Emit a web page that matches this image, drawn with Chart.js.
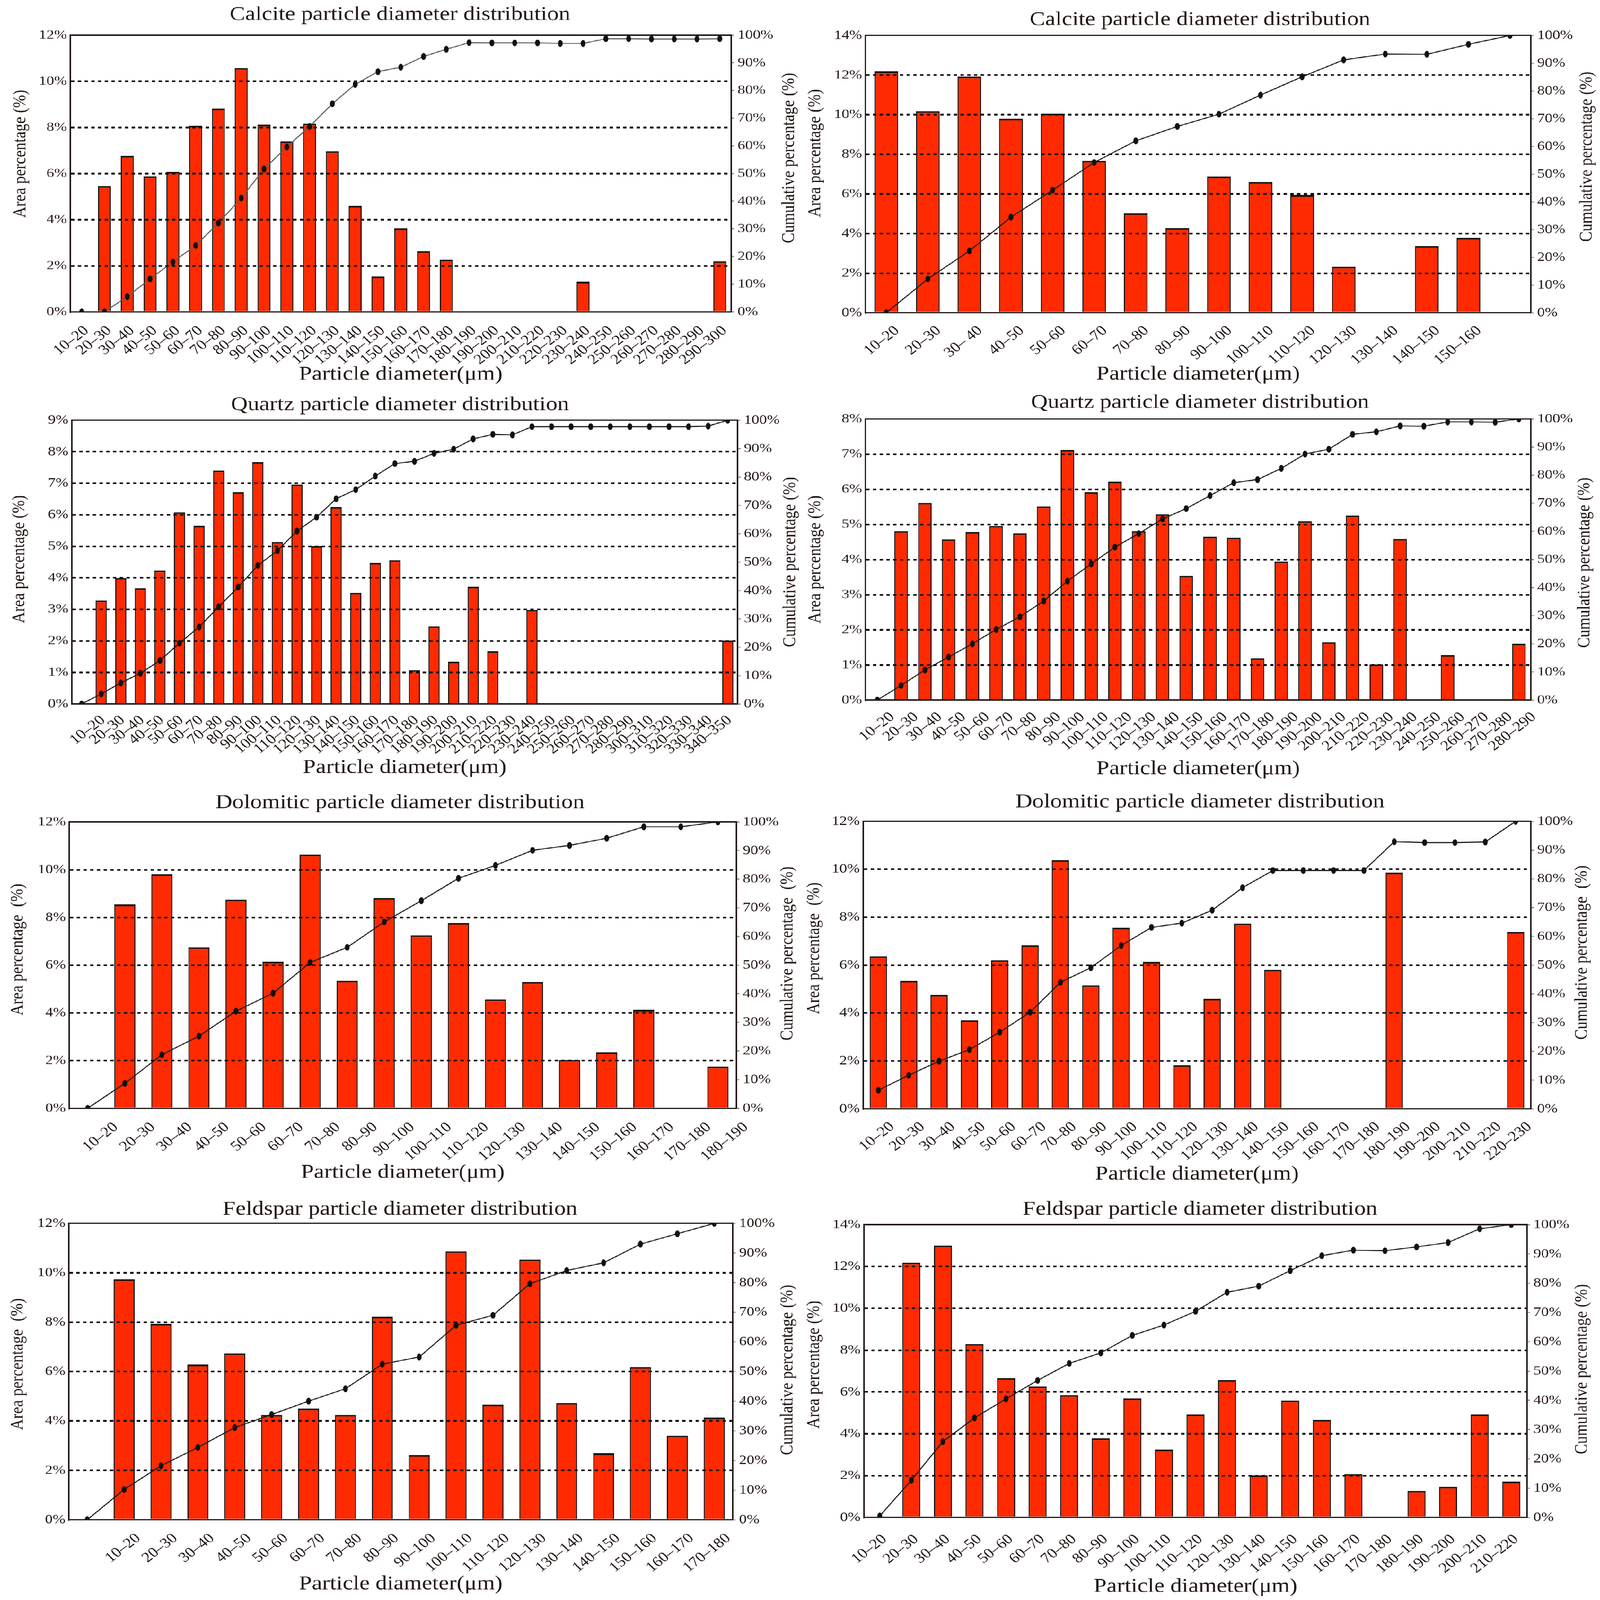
<!DOCTYPE html>
<html>
<head>
<meta charset="UTF-8">
<title>Particle diameter distribution</title>
<script src="https://cdn.jsdelivr.net/npm/chart.js"></script>
<style>
  html, body { margin: 0; padding: 0; background: #fff; overflow: hidden; }
  #page { position: absolute; left: 0; top: 0; width: 4278px; height: 4962px; transform-origin: 0 0; }
  #page canvas { position: absolute; }
</style>
</head>
<body>
<div id="page"></div>
<script>
// ---- values: area % (left axis) and cumulative % (right axis) ----

// Calcite, left panel
const calciteALabels = ['10–20','20–30','30–40','40–50','50–60','60–70','70–80','80–90','90–100','100–110',
  '110–120','120–130','130–140','140–150','150–160','160–170','170–180','180–190','190–200','200–210',
  '210–220','220–230','230–240','240–250','250–260','260–270','270–280','280–290','290–300'];
const calciteAArea = [0, 5.45, 6.77, 5.88, 6.07, 8.07, 8.81, 10.57, 8.12, 7.40, 8.16, 6.96, 4.59, 1.53, 3.62,
  2.63, 2.27, 0, 0, 0, 0, 0, 1.30, 0, 0, 0, 0, 0, 2.20];
const calciteACum = [0, 0, 5.5, 11.9, 18.0, 24.0, 32.1, 41.1, 51.6, 59.6, 67.0, 75.2, 82.2, 86.8, 88.4, 92.3,
  94.9, 97.3, 97.2, 97.2, 97.2, 97.0, 97.0, 98.7, 98.7, 98.6, 98.6, 98.6, 98.7];

// Calcite, right panel
const calciteBLabels = ['10–20','20–30','30– 40','40–50','50–60','60–70','70–80','80–90','90–100','100–110',
  '110–120','120–130','130–140','140–150','150–160',''];
const calciteBArea = [12.19, 10.18, 11.93, 9.80, 10.05, 7.67, 5.03, 4.28, 6.87, 6.61, 5.94, 2.33, 0, 3.37, 3.78, 0];
const calciteBCum = [0, 12.2, 22.3, 34.5, 44.2, 54.2, 62.0, 67.2, 71.6, 78.5, 85.1, 91.2, 93.3, 93.2, 96.8, 100];

// Quartz, left panel
const quartzALabels = ['','10–20','20–30','30–40','40–50','50–60','60–70','70–80','80–90','90–100','100–110',
  '110–120','120–130','130–140','140–150','150–160','160–170','170–180','180–190','190–200','200–210',
  '210–220','220–230','230–240','240–250','250–260','260–270','270–280','280–290','300–310','310–320',
  '320–330','330–340','340–350'];
const quartzAArea = [0, 3.28, 3.99, 3.67, 4.23, 6.08, 5.65, 7.40, 6.72, 7.67, 5.14, 6.96, 5.01, 6.24, 3.52,
  4.47, 4.56, 1.07, 2.46, 1.34, 3.72, 1.67, 0, 2.98, 0, 0, 0, 0, 0, 0, 0, 0, 0, 2.01];
const quartzACum = [0, 3.5, 7.4, 10.8, 15.3, 21.4, 27.1, 34.2, 41.2, 48.8, 54.0, 60.9, 65.8, 72.3, 75.5, 80.3,
  84.7, 85.5, 88.3, 89.8, 93.4, 95.0, 94.8, 97.7, 97.7, 97.7, 97.7, 97.7, 97.7, 97.7, 97.7, 97.7, 97.9, 100];

// Quartz, right panel
const quartzBLabels = ['10–20','20–30','30–40','40–50','50–60','60–70','70–80','80–90','90–100','100–110',
  '110–120','120–130','130–140','140–150','150–160','160–170','170–180','180–190','190–200','200–210',
  '210–220','220–230','230–240','240–250','250–260','260–270','270–280','280–290'];
const quartzBArea = [0, 4.81, 5.61, 4.57, 4.78, 4.95, 4.74, 5.51, 7.11, 5.91, 6.21, 4.81, 5.29, 3.53, 4.65,
  4.62, 1.19, 3.94, 5.09, 1.64, 5.25, 1.01, 4.58, 0, 1.28, 0, 0, 1.60];
const quartzBCum = [0, 5.2, 10.7, 15.3, 20.0, 25.1, 29.6, 35.2, 42.3, 48.4, 54.4, 59.2, 64.4, 68.1, 72.7, 77.3,
  78.4, 82.4, 87.5, 89.2, 94.5, 95.4, 97.5, 97.4, 98.9, 98.9, 98.8, 100];

// Dolomitic, left panel
const dolomiteALabels = ['10–20','20–30','30–40','40–50','50–60','60–70','70–80','80–90','90–100','100–110',
  '110–120','120–130','130–140','140–150','150–160','160–170','170–180','180–190'];
const dolomiteAArea = [0, 8.54, 9.81, 6.74, 8.74, 6.14, 10.64, 5.34, 8.81, 7.25, 7.77, 4.56, 5.29, 2.02, 2.35, 4.12, 0, 1.75];
const dolomiteACum = [0, 8.7, 18.7, 25.2, 33.9, 40.2, 50.9, 56.2, 65.1, 72.5, 80.3, 84.8, 90.1, 91.8, 94.3, 98.3, 98.3, 100];

// Dolomitic, right panel
const dolomiteBLabels = ['10–20','20–30','30–40','40–50','50–60','60–70','70–80','80–90','90–100','100–110',
  '110–120','120–130','130–140','140–150','150–160','160–170','170–180','180–190','190–200','200–210',
  '210–220','220–230'];
const dolomiteBArea = [6.36, 5.34, 4.76, 3.70, 6.20, 6.82, 10.38, 5.16, 7.56, 6.13, 1.82, 4.59, 7.73, 5.80,
  0, 0, 0, 9.86, 0, 0, 0, 7.38];
const dolomiteBCum = [6.5, 11.7, 16.6, 20.6, 26.7, 33.6, 44.0, 49.1, 56.8, 63.1, 64.6, 69.1, 76.9, 82.9, 82.9,
  82.9, 82.9, 92.9, 92.6, 92.6, 92.8, 100];

// Feldspar, left panel
const feldsparALabels = ['','10–20','20–30','30–40','40–50','50–60','60–70','70–80','80–90','90–100','100–110',
  '110–120','120–130','130–140','140–150','150–160','160–170','170–180'];
const feldsparAArea = [0, 9.74, 7.93, 6.28, 6.74, 4.24, 4.50, 4.24, 8.22, 2.61, 10.87, 4.66, 10.53, 4.73, 2.69, 6.18, 3.40, 4.14];
const feldsparACum = [0, 10.2, 18.2, 24.4, 31.1, 35.5, 40.0, 44.2, 52.5, 54.9, 65.6, 69.0, 79.6, 84.1, 86.7, 93.0, 96.5, 100];

// Feldspar, right panel
const feldsparBLabels = ['10–20','20–30','30–40','40–50','50–60','60–70','70–80','80–90','90–100','100–110',
  '110–120','120–130','130–140','140–150','150–160','160–170','170–180','180–190','190–200','200–210','210–220'];
const feldsparBArea = [0, 12.19, 13.0, 8.30, 6.66, 6.27, 5.85, 3.79, 5.69, 3.25, 4.92, 6.57, 2.01, 5.59, 4.67,
  2.07, 0, 1.27, 1.46, 4.92, 1.71];
const feldsparBCum = [0.5, 12.7, 25.9, 34.0, 40.5, 46.8, 52.6, 56.2, 62.2, 65.7, 70.4, 76.9, 79.0, 84.3, 89.4,
  91.3, 91.1, 92.4, 93.9, 98.6, 100];

// ---- layout of the eight panels (figure pixels, 4278x4962) ----
const INK = '#231815';
const SERIF = '"Liberation Serif", "Times New Roman", serif';

const panels = [
  { title: 'Calcite particle diameter distribution', labels: calciteALabels, area: calciteAArea, cum: calciteACum,
    yMax: 12, yStep: 2, line: '#5e5e5e', box: [0, 0, 2139, 1200], plot: [188, 109, 1955, 967],
    titleY: 46, xTitleY: 1162, leftX: 55, leftDy: -61, rightX: 2110, rightDy: -48, labelOffset: 13, tickPad: 33,
    leftText: 'Area percentage (%)', rightText: 'Cumulative percentage (%)' },
  { title: 'Calcite particle diameter distribution', labels: calciteBLabels, area: calciteBArea, cum: calciteBCum,
    yMax: 14, yStep: 2, line: '#1a1a1a', box: [2139, 0, 2139, 1200], plot: [2314, 110, 4093, 970],
    titleY: 62, xTitleY: 1161, leftX: 2180, leftDy: -65, rightX: 4243, rightDy: -54, labelOffset: 29, tickPad: 30,
    leftText: 'Area percentage (%)', rightText: 'Cumulative percentage (%)' },
  { title: 'Quartz particle diameter distribution', labels: quartzALabels, area: quartzAArea, cum: quartzACum,
    yMax: 9, yStep: 1, line: '#1a1a1a', box: [0, 1200, 2139, 1240], plot: [192, 1303, 1972, 2183],
    titleY: 1256, xTitleY: 2381, leftX: 52, leftDy: -9, rightX: 2113, rightDy: 0, labelOffset: 5, tickPad: 25,
    leftText: 'Area percentage (%)', rightText: 'Cumulative percentage (%)' },
  { title: 'Quartz particle diameter distribution', labels: quartzBLabels, area: quartzBArea, cum: quartzBCum,
    yMax: 8, yStep: 1, line: '#1a1a1a', box: [2139, 1200, 2139, 1240], plot: [2314, 1299, 4093, 2171],
    titleY: 1249, xTitleY: 2385, leftX: 2180, leftDy: 0, rightX: 4237, rightDy: 10, labelOffset: 40, tickPad: 27,
    leftText: 'Area percentage (%)', rightText: 'Cumulative percentage (%)' },
  { title: 'Dolomitic particle diameter distribution', labels: dolomiteALabels, area: dolomiteAArea, cum: dolomiteACum,
    yMax: 12, yStep: 2, line: '#1a1a1a', box: [0, 2440, 2139, 1250], plot: [185, 2549, 1969, 3437],
    titleY: 2490, xTitleY: 3637, leftX: 48, leftDy: -48, rightX: 2106, rightDy: -36, labelOffset: 75, tickPad: 33,
    leftText: 'Area percentage  (%)', rightText: 'Cumulative percentage  (%)' },
  { title: 'Dolomitic particle diameter distribution', labels: dolomiteBLabels, area: dolomiteBArea, cum: dolomiteBCum,
    yMax: 12, yStep: 2, line: '#1a1a1a', box: [2139, 2440, 2139, 1250], plot: [2308, 2547, 4093, 3439],
    titleY: 2488, xTitleY: 3642, leftX: 2177, leftDy: -52, rightX: 4230, rightDy: -39, labelOffset: 37, tickPad: 30,
    leftText: 'Area percentage  (%)', rightText: 'Cumulative percentage  (%)' },
  { title: 'Feldspar particle diameter distribution', labels: feldsparALabels, area: feldsparAArea, cum: feldsparACum,
    yMax: 12, yStep: 2, line: '#1a1a1a', box: [0, 3690, 2139, 1272], plot: [184, 3794, 1959, 4713],
    titleY: 3751, xTitleY: 4913, leftX: 48, leftDy: -23, rightX: 2106, rightDy: -5, labelOffset: 38, tickPad: 32,
    leftText: 'Area percentage  (%)', rightText: 'Cumulative percentage (%)' },
  { title: 'Feldspar particle diameter distribution', labels: feldsparBLabels, area: feldsparBArea, cum: feldsparBCum,
    yMax: 14, yStep: 2, line: '#1a1a1a', box: [2139, 3690, 2139, 1272], plot: [2310, 3798, 4083, 4706],
    titleY: 3751, xTitleY: 4921, leftX: 2177, leftDy: -20, rightX: 4230, rightDy: -6, labelOffset: 13, tickPad: 42,
    leftText: 'Area percentage (%)', rightText: 'Cumulative percentage (%)' }
];

// the window can be smaller than the figure: stretch the figure to fill it
const page = document.getElementById('page');
const sx = Math.min(1, window.innerWidth / 4278);
const sy = Math.min(1, window.innerHeight / 4962);
page.style.transform = 'scale(' + sx + ',' + sy + ')';

// black oval marker like the original's dots
const dot = document.createElement('canvas');
dot.width = 14; dot.height = 22;
(function () {
  const g = dot.getContext('2d');
  g.fillStyle = '#111';
  g.beginPath();
  g.ellipse(7, 11, 6.5, 10.5, 0, 0, Math.PI * 2);
  g.fill();
})();

// both vertical axis titles read bottom-to-top in the figure
const sideTitles = {
  id: 'sideTitles',
  afterDraw(chart, args, o) {
    const ctx = chart.ctx, a = chart.chartArea, mid = (a.top + a.bottom) / 2;
    ctx.save();
    ctx.font = '48px ' + SERIF;
    ctx.fillStyle = INK;
    ctx.textAlign = 'center';
    ctx.textBaseline = 'middle';
    [[o.leftX, mid + o.leftDy, o.leftText], [o.rightX, mid + o.rightDy, o.rightText]].forEach(([x, y, t]) => {
      ctx.save();
      ctx.translate(x, y);
      ctx.rotate(-Math.PI / 2);
      ctx.fillText(t, 0, 0);
      ctx.restore();
    });
    ctx.restore();
  }
};

function build(p) {
  const [cx, cy, cw, ch] = p.box;
  const [L, T, R, B] = p.plot;
  const cv = document.createElement('canvas');
  cv.width = cw; cv.height = ch;
  cv.style.left = cx + 'px'; cv.style.top = cy + 'px';
  cv.style.width = cw + 'px'; cv.style.height = ch + 'px';
  page.appendChild(cv);

  const lh = 62 * 1.2;
  const tTop = p.titleY - cy - lh / 2;
  const tBottom = T - cy - tTop - lh;
  const xPad = cy + ch - p.xTitleY - lh / 2;

  new Chart(cv, {
    data: {
      labels: p.labels,
      datasets: [
        { type: 'line', data: p.cum, yAxisID: 'y2', xAxisID: 'x', borderColor: p.line, borderWidth: 3,
          pointStyle: dot, pointRadius: 7, tension: 0, order: 0 },
        { type: 'bar', data: p.area, yAxisID: 'y', xAxisID: 'x', backgroundColor: '#ff2a00', borderColor: '#1a1210',
          borderWidth: { top: 5, left: 3, right: 3, bottom: 0 }, barPercentage: 0.57, categoryPercentage: 1, order: 1 }
      ]
    },
    options: {
      responsive: false,
      animation: false,
      devicePixelRatio: 1,
      layout: { padding: 0 },
      plugins: {
        legend: { display: false },
        tooltip: { enabled: false },
        title: { display: true, text: p.title, color: INK,
          font: { family: SERIF, size: 62, weight: 'normal', lineHeight: 1.2 },
          padding: { top: tTop, bottom: tBottom } },
        sideTitles: { leftX: p.leftX - cx, leftDy: p.leftDy, rightX: p.rightX - cx, rightDy: p.rightDy,
          leftText: p.leftText, rightText: p.rightText }
      },
      scales: {
        x: {
          type: 'category', position: 'bottom', offset: true,
          grid: { display: false, drawTicks: false },
          border: { display: true, color: INK, width: 4, z: 2 },
          ticks: { autoSkip: false, minRotation: 42, maxRotation: 42, padding: p.tickPad, labelOffset: p.labelOffset,
            color: INK, font: { family: SERIF, size: 44 } },
          title: { display: true, text: 'Particle diameter(μm)', color: INK,
            font: { family: SERIF, size: 62, lineHeight: 1.2 }, padding: { top: 0, bottom: xPad } },
          afterFit: s => { s.height = cy + ch - B; }
        },
        xt: {
          type: 'category', position: 'top', offset: true,
          grid: { display: false, drawTicks: false },
          ticks: { display: false },
          border: { display: true, color: INK, width: 4, z: 2 },
          afterFit: s => { s.height = 0; }
        },
        y: {
          position: 'left', min: 0, max: p.yMax,
          ticks: { stepSize: p.yStep, padding: 9, color: INK, font: { family: SERIF, size: 41 }, callback: v => v + '%' },
          grid: { color: c => (c.tick && c.tick.value > 0 && c.tick.value < p.yMax) ? '#111' : 'rgba(0,0,0,0)',
            lineWidth: 5, drawTicks: false, z: 1 },
          border: { display: true, color: INK, width: 4, dash: [9, 9], z: 2 },
          afterFit: s => { s.width = L - cx; }
        },
        y2: {
          position: 'right', min: 0, max: 100,
          ticks: { stepSize: 10, padding: 9, color: INK, font: { family: SERIF, size: 41 }, callback: v => v + '%' },
          grid: { drawOnChartArea: false, drawTicks: true, tickLength: 8, tickColor: '#8a8a8a', tickWidth: 3 },
          border: { display: true, color: INK, width: 4, z: 2 },
          afterFit: s => { s.width = cx + cw - R; }
        }
      }
    },
    plugins: [sideTitles]
  });
}

panels.forEach(build);
</script>
</body>
</html>
